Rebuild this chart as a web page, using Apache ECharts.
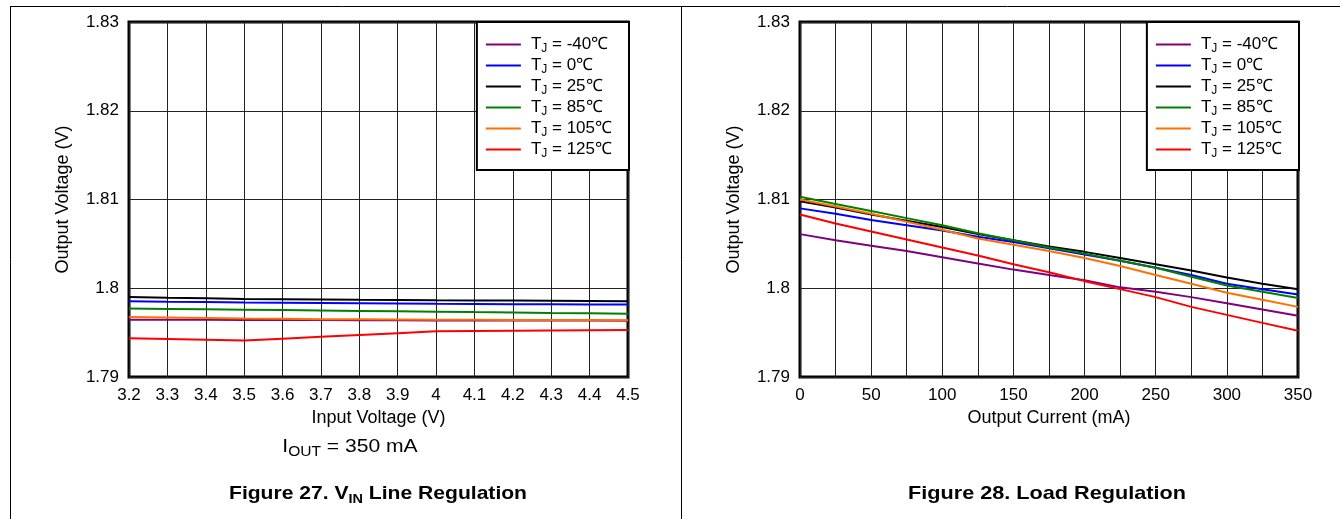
<!DOCTYPE html>
<html><head><meta charset="utf-8">
<script src="https://cdn.jsdelivr.net/npm/echarts@6/dist/echarts.min.js"></script>
<style>html,body{margin:0;padding:0;background:#fff}#c{width:1340px;height:519px}</style>
</head><body><div id="c"></div>
<script>
// ---------- data ----------
const inputVoltage = [3.2,3.3,3.4,3.5,3.6,3.7,3.8,3.9,4.0,4.1,4.2,4.3,4.4,4.5];
const outputCurrent = [0,25,50,75,100,125,150,175,200,225,250,275,300,325,350];
const temps = ['-40','0','25','85','105','125'];
const colors = ['#800080','#0000ff','#000000','#008000','#ff7000','#ff0000'];

// Figure 27: line regulation (Vout vs Vin), Iout = 350 mA
const lineM40 = [1.79646,1.79645,1.79644,1.79643,1.79642,1.79641,1.79640,1.79639,1.79638,1.79638,1.79637,1.79636,1.79636,1.79635];
const line0   = [1.79853,1.79848,1.79844,1.79839,1.79836,1.79833,1.79830,1.79827,1.79824,1.79822,1.79820,1.79819,1.79818,1.79816];
const line25  = [1.79902,1.79893,1.79886,1.79879,1.79876,1.79873,1.79870,1.79868,1.79865,1.79863,1.79861,1.79858,1.79856,1.79853];
const line85  = [1.79771,1.79767,1.79763,1.79759,1.79754,1.79750,1.79745,1.79741,1.79736,1.79731,1.79727,1.79722,1.79718,1.79713];
const line105 = [1.79677,1.79670,1.79664,1.79658,1.79655,1.79652,1.79650,1.79648,1.79646,1.79645,1.79643,1.79642,1.79641,1.79639];
const line125 = [1.79437,1.79428,1.79420,1.79411,1.79432,1.79453,1.79473,1.79494,1.79515,1.79518,1.79521,1.79524,1.79527,1.79530];

// Figure 28: load regulation (Vout vs Iout)
const loadM40 = [1.8061,1.8054,1.8048,1.8042,1.8035,1.8028,1.8021,1.8015,1.8009,1.8001,1.7996,1.7990,1.7983,1.7976,1.7969];
const load0   = [1.8090,1.8084,1.8077,1.8071,1.8065,1.8058,1.8052,1.8045,1.8038,1.8031,1.8023,1.8015,1.8005,1.7999,1.7993];
const load25  = [1.8098,1.8091,1.8083,1.8076,1.8069,1.8061,1.8054,1.8047,1.8041,1.8034,1.8027,1.8020,1.8012,1.8005,1.7999];
const load85  = [1.8103,1.8095,1.8087,1.8079,1.8071,1.8062,1.8054,1.8046,1.8039,1.8031,1.8023,1.8013,1.8003,1.7996,1.7989];
const load105 = [1.8100,1.8092,1.8084,1.8075,1.8066,1.8056,1.8049,1.8042,1.8034,1.8025,1.8015,1.8005,1.7995,1.7987,1.7979];
const load125 = [1.8083,1.8073,1.8064,1.8055,1.8046,1.8037,1.8027,1.8018,1.8008,1.7999,1.7990,1.7979,1.7970,1.7961,1.7952];

const yTicks = {min: 1.79, max: 1.83, interval: 0.01};

// ---------- chart ----------
const FONT = '"Liberation Sans", Arial, Helvetica, sans-serif';
const lineSets = [lineM40, line0, line25, line85, line105, line125];
const loadSets = [loadM40, load0, load25, load85, load105, load125];
const names = temps.map(t => 'TJ = ' + t + '℃');

const series = [];
lineSets.forEach((arr, i) => series.push({
  name: names[i], type: 'line', xAxisIndex: 0, yAxisIndex: 0, symbol: 'none', showSymbol: false,
  lineStyle: {width: 2, color: colors[i]}, itemStyle: {color: colors[i]},
  data: arr.map((v, k) => [inputVoltage[k], v]), z: 3 + i * 0.01
}));
loadSets.forEach((arr, i) => series.push({
  name: names[i], type: 'line', xAxisIndex: 1, yAxisIndex: 1, symbol: 'none', showSymbol: false,
  lineStyle: {width: 2, color: colors[i]}, itemStyle: {color: colors[i]},
  data: arr.map((v, k) => [outputCurrent[k], v]), z: 3 + i * 0.01
}));

const gridLine = {show: true, lineStyle: {color: '#222', width: 1}};
function yAxis(gi) {
  return {
    type: 'value', gridIndex: gi, min: yTicks.min, max: yTicks.max, interval: yTicks.interval,
    name: 'Output Voltage (V)', nameLocation: 'middle', nameGap: 57, nameRotate: 90,
    nameTextStyle: {fontFamily: FONT, fontSize: 18, color: '#000'},
    axisLine: {show: false}, axisTick: {show: false},
    axisLabel: {fontFamily: FONT, fontSize: 17, color: '#000', margin: 10},
    splitLine: gridLine
  };
}
const legendRich = {
  t: {fontFamily: FONT, fontSize: 17, color: '#000', lineHeight: 21},
  s: {fontFamily: FONT, fontSize: 12, color: '#000', lineHeight: 13, verticalAlign: 'bottom'}
};
function legend(right) {
  return {
    orient: 'vertical', right: right, top: 22, data: names,
    icon: 'rect', itemWidth: 35, itemHeight: 2, itemGap: 0,
    padding: [12, 17, 10, 9],
    backgroundColor: '#fff', borderColor: '#000', borderWidth: 2,
    selectedMode: false,
    formatter: n => '{t|T}{s|J}{t| = ' + n.slice(5) + '}',
    textStyle: {padding: [0, 0, 0, 5], lineHeight: 21, fontSize: 17, rich: legendRich}
  };
}

const option = {
  animation: false,
  backgroundColor: '#fff',
  grid: [
    {left: 129, top: 22, width: 499, height: 355, show: true, borderColor: '#000', borderWidth: 3, backgroundColor: 'transparent'},
    {left: 800, top: 22, width: 498, height: 355, show: true, borderColor: '#000', borderWidth: 3, backgroundColor: 'transparent'}
  ],
  xAxis: [
    {type: 'value', gridIndex: 0, min: 3.2, max: 4.5, interval: 0.1,
     name: 'Input Voltage (V)', nameLocation: 'middle', nameGap: 32,
     nameTextStyle: {fontFamily: FONT, fontSize: 18, color: '#000'},
     axisLine: {show: false}, axisTick: {show: false},
     axisLabel: {fontFamily: FONT, fontSize: 17, color: '#000', margin: 10, showMinLabel: true, showMaxLabel: true},
     splitLine: gridLine},
    {type: 'value', gridIndex: 1, min: 0, max: 350, interval: 50,
     name: 'Output Current (mA)', nameLocation: 'middle', nameGap: 32,
     nameTextStyle: {fontFamily: FONT, fontSize: 18, color: '#000'},
     axisLine: {show: false}, axisTick: {show: false},
     minorTick: {show: false, splitNumber: 2},
     minorSplitLine: {show: true, lineStyle: {color: '#222', width: 1}},
     axisLabel: {fontFamily: FONT, fontSize: 17, color: '#000', margin: 10, showMinLabel: true, showMaxLabel: true},
     splitLine: gridLine}
  ],
  yAxis: [yAxis(0), yAxis(1)],
  legend: [legend(1340 - 629), legend(1340 - 1299)],
  series: series,
  graphic: [
    {type: 'line', silent: true, shape: {x1: 10, y1: 6.5, x2: 1340, y2: 6.5}, style: {stroke: '#000', lineWidth: 1}},
    {type: 'line', silent: true, shape: {x1: 10.5, y1: 6, x2: 10.5, y2: 519}, style: {stroke: '#000', lineWidth: 1}},
    {type: 'line', silent: true, shape: {x1: 681.5, y1: 6, x2: 681.5, y2: 519}, style: {stroke: '#000', lineWidth: 1}},
    {type: 'text', x: 350, y: 447, scaleX: 1.11, style: {
      text: '{a|I}{s|OUT}{a| = 350 mA}', fill: '#000', align: 'center', verticalAlign: 'middle',
      rich: {a: {fontFamily: FONT, fontSize: 19, lineHeight: 24, fill: '#000'},
             s: {fontFamily: FONT, fontSize: 14, lineHeight: 16, verticalAlign: 'bottom', fill: '#000'}}}},
    {type: 'text', x: 378, y: 494, scaleX: 1.11, style: {
      text: '{b|Figure 27. V}{s|IN}{b| Line Regulation}', fill: '#000', align: 'center', verticalAlign: 'middle',
      rich: {b: {fontFamily: FONT, fontSize: 19, fontWeight: 'bold', lineHeight: 24, fill: '#000'},
             s: {fontFamily: FONT, fontSize: 13, fontWeight: 'bold', lineHeight: 16, verticalAlign: 'bottom', fill: '#000'}}}},
    {type: 'text', x: 1047, y: 494, scaleX: 1.14, style: {
      text: 'Figure 28. Load Regulation', fill: '#000', align: 'center', verticalAlign: 'middle',
      fontFamily: FONT, fontSize: 19, fontWeight: 'bold'}}
  ]
};
const chart = echarts.init(document.getElementById('c'));
chart.setOption(option);
</script>
</body></html>
